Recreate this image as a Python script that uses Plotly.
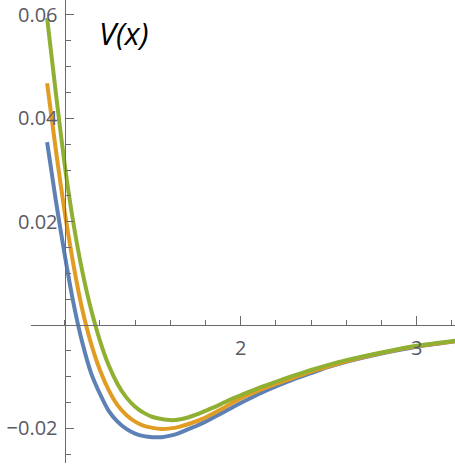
import plotly.graph_objects as go

# sample positions along x
x_vals = [0.9, 0.95, 1.0, 1.05, 1.1, 1.15, 1.2, 1.25, 1.3, 1.35, 1.4, 1.45,
          1.5, 1.55, 1.6, 1.65, 1.7, 1.75, 1.8, 1.85, 1.9, 1.95, 2.0,
          2.1, 2.2, 2.3, 2.4, 2.5, 2.6, 2.8, 3.0, 3.25]

v_blue = [0.0354, 0.0240, 0.0136, 0.0042, -0.0034, -0.0093, -0.0133, -0.0166,
          -0.0187, -0.0201, -0.0210, -0.0215, -0.0217, -0.0217, -0.0214, -0.0209,
          -0.0202, -0.0195, -0.0187, -0.0178, -0.0169, -0.0160, -0.0151,
          -0.0134, -0.0119, -0.0105, -0.0093, -0.0081, -0.0071, -0.0055, -0.0042,
          -0.0030]

v_orange = [0.0468, 0.0338, 0.0218, 0.0116, 0.0030, -0.0036, -0.0087, -0.0126,
            -0.0155, -0.0174, -0.0187, -0.0195, -0.0199, -0.0201, -0.0200, -0.0197,
            -0.0192, -0.0186, -0.0179, -0.0170, -0.0161, -0.0151, -0.0142,
            -0.0127, -0.0114, -0.0102, -0.0090, -0.0080, -0.0070, -0.0054, -0.0041,
            -0.0030]

v_green = [0.0594, 0.0448, 0.0310, 0.0196, 0.0104, 0.0030, -0.0030, -0.0078,
           -0.0114, -0.0140, -0.0158, -0.0170, -0.0178, -0.0182, -0.0184, -0.0183,
           -0.0179, -0.0173, -0.0166, -0.0159, -0.0151, -0.0143, -0.0136,
           -0.0122, -0.0110, -0.0098, -0.0087, -0.0077, -0.0068, -0.0053, -0.0040,
           -0.0029]

x_ticks = [2, 3]
y_ticks = [-0.02, 0.02, 0.04, 0.06]

x_range = [0.8085, 3.2176]
y_range = [-0.0267, 0.0629]

axis_color = "#6b6b6b"
label_color = "#5a5a66"

fig = go.Figure()
for vals, color in [(v_blue, "#5E81B5"), (v_orange, "#E19C24"), (v_green, "#8FB032")]:
    fig.add_trace(go.Scatter(x=x_vals, y=vals, mode="lines",
                             line=dict(color=color, width=4, shape="spline", smoothing=0.6),
                             showlegend=False, hoverinfo="skip"))

# axes cross at x=1, y=0 like Mathematica
y_axis_pos = (1 - x_range[0]) / (x_range[1] - x_range[0])
x_axis_pos = (0 - y_range[0]) / (y_range[1] - y_range[0])

fig.update_layout(
    width=455, height=465,
    margin=dict(l=31, r=0, t=0, b=2),
    paper_bgcolor="white", plot_bgcolor="white",
    font=dict(family="Open Sans", size=20, color=label_color),
    xaxis=dict(range=x_range, anchor="free", position=x_axis_pos,
               showgrid=False, zeroline=False, showline=True,
               linecolor=axis_color, linewidth=1.3,
               tickmode="array", tickvals=x_ticks, ticklabelstandoff=5,
               ticks="inside", ticklen=9, tickwidth=1.3, tickcolor=axis_color,
               minor=dict(dtick=0.2, tick0=0, ticks="inside", ticklen=5,
                          tickwidth=1.1, tickcolor=axis_color, showgrid=False)),
    yaxis=dict(range=y_range, anchor="free", position=y_axis_pos,
               showgrid=False, zeroline=False, showline=True,
               linecolor=axis_color, linewidth=1.3,
               tickmode="array", tickvals=y_ticks, ticklabelstandoff=3,
               ticks="inside", ticklen=8, tickwidth=1.3, tickcolor=axis_color,
               minor=dict(dtick=0.005, tick0=0, ticks="inside", ticklen=5,
                          tickwidth=1.1, tickcolor=axis_color, showgrid=False)),
)

fig.add_annotation(text="<i>V(x)</i>", xref="paper", yref="paper",
                   x=0.219, y=0.929, xanchor="center", yanchor="middle",
                   showarrow=False,
                   font=dict(family="Open Sans", size=31, color="black"))

# drop the browser's default body margin so the figure sits at the window corner
fig.write_html("out.html", config={"displayModeBar": False},
               post_script="document.body.style.margin='0';")
